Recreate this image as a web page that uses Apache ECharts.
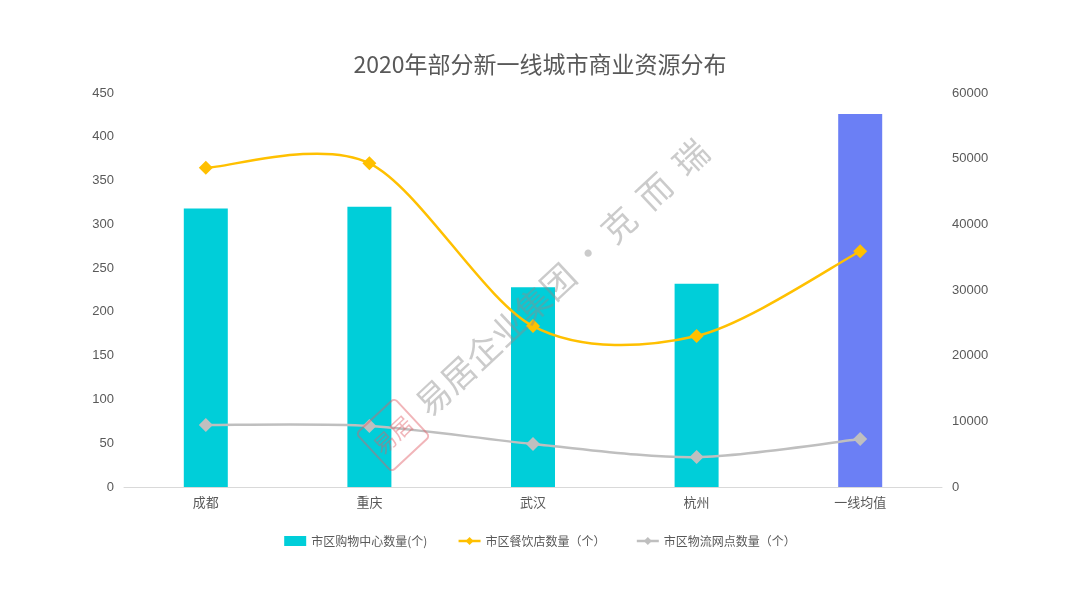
<!DOCTYPE html>
<html><head><meta charset="utf-8">
<script src="https://cdn.jsdelivr.net/npm/echarts@6/dist/echarts.min.js"></script>
<style>html,body{margin:0;padding:0;background:#fff}#c{width:1080px;height:597px}</style>
</head><body><div id="c"></div>
<script>
const categories = ['成都', '重庆', '武汉', '杭州', '一线均值'];
const mallCounts = [318, 320, 228, 232, 426];
const restaurantCounts = [48600, 49300, 24500, 23000, 35900];
const logisticsCounts = [9450, 9300, 6550, 4550, 7300];
const leftTicks = [0, 450, 50];
const rightTicks = [0, 60000, 10000];

const barColors = ['#00CED9', '#00CED9', '#00CED9', '#00CED9', '#6B7FF5'];
const YELLOW = '#FFC000', GRAY = '#BFBFBF';
const font = '"Noto Sans CJK SC", "Noto Sans", sans-serif';
const numFont = '"Liberation Sans", "Noto Sans CJK SC", sans-serif';

// Excel-like smooth curve segment (Catmull-Rom -> Bezier), drawn through the axes' scales
function curveRenderer(values, color) {
  return function (params, api) {
    const i = api.value(0);
    const n = values.length;
    if (i >= n - 1) return null;
    const P = j => api.coord([Math.max(0, Math.min(n - 1, j)), values[Math.max(0, Math.min(n - 1, j))]]);
    const p0 = P(i - 1), p1 = P(i), p2 = P(i + 1), p3 = P(i + 2);
    const k = 0.15;
    return {
      type: 'bezierCurve',
      shape: {
        x1: p1[0], y1: p1[1], x2: p2[0], y2: p2[1],
        cpx1: p1[0] + (p2[0] - p0[0]) * k, cpy1: p1[1] + (p2[1] - p0[1]) * k,
        cpx2: p2[0] - (p3[0] - p1[0]) * k, cpy2: p2[1] - (p3[1] - p1[1]) * k
      },
      style: {stroke: color, lineWidth: 2.5, fill: null}
    };
  };
}

const chart = echarts.init(document.getElementById('c'), null, {renderer: 'canvas'});
chart.setOption({
  backgroundColor: '#fff',
  animation: false,
  title: {
    text: '2020年部分新一线城市商业资源分布',
    left: 'center', top: 48,
    textStyle: {fontSize: 23, fontWeight: 'normal', color: '#595959', fontFamily: font}
  },
  legend: {
    bottom: 45, left: 'center', itemGap: 30, itemWidth: 22, itemHeight: 10,
    textStyle: {fontSize: 12, color: '#595959', fontFamily: font},
    data: [
      {name: '市区购物中心数量(个)', icon: 'rect', itemStyle: {color: '#00CED9'}},
      {name: '市区餐饮店数量（个）', lineStyle: {color: YELLOW, width: 2.5, opacity: 1}},
      {name: '市区物流网点数量（个）', lineStyle: {color: GRAY, width: 2.5, opacity: 1}}
    ]
  },
  grid: {left: 124, right: 138, top: 93, bottom: 110},
  xAxis: {
    type: 'category', data: categories,
    axisLine: {lineStyle: {color: '#D9D9D9'}},
    axisTick: {show: false},
    axisLabel: {color: '#595959', fontSize: 13, margin: 9, fontFamily: font}
  },
  yAxis: [
    {type: 'value', min: leftTicks[0], max: leftTicks[1], interval: leftTicks[2],
     splitLine: {show: false}, axisLine: {show: false}, axisTick: {show: false},
     axisLabel: {color: '#595959', fontSize: 13, margin: 10, fontFamily: numFont}},
    {type: 'value', min: rightTicks[0], max: rightTicks[1], interval: rightTicks[2],
     splitLine: {show: false}, axisLine: {show: false}, axisTick: {show: false},
     axisLabel: {color: '#595959', fontSize: 13, margin: 10, fontFamily: numFont,
                 formatter: v => String(v)}}
  ],
  series: [
    {name: '市区购物中心数量(个)', type: 'bar', yAxisIndex: 0, barWidth: 44,
     data: mallCounts.map((v, i) => ({value: v, itemStyle: {color: barColors[i]}})),
     itemStyle: {color: '#00CED9'}},
    {type: 'custom', yAxisIndex: 1, z: 3, silent: true,
     renderItem: curveRenderer(restaurantCounts, YELLOW),
     data: restaurantCounts.map((v, i) => [i, v])},
    {type: 'custom', yAxisIndex: 1, z: 3, silent: true,
     renderItem: curveRenderer(logisticsCounts, GRAY),
     data: logisticsCounts.map((v, i) => [i, v])},
    {name: '市区餐饮店数量（个）', type: 'line', yAxisIndex: 1, z: 4,
     data: restaurantCounts, symbol: 'diamond', symbolSize: 14,
     lineStyle: {color: YELLOW, width: 2.5, opacity: 0}, itemStyle: {color: YELLOW}},
    {name: '市区物流网点数量（个）', type: 'line', yAxisIndex: 1, z: 4,
     data: logisticsCounts, symbol: 'diamond', symbolSize: 14,
     lineStyle: {color: GRAY, width: 2.5, opacity: 0}, itemStyle: {color: GRAY}}
  ],
  graphic: [
    {type: 'text', x: 421, y: 409, rotation: Math.PI * 43 / 180, z: 100,
     style: {text: '易居企业集团 · 克  而  瑞', fontSize: 34, fill: 'rgba(140,140,140,0.45)',
             fontFamily: font, verticalAlign: 'middle'}},
    {type: 'rect', x: 393, y: 435, rotation: Math.PI * 43 / 180, z: 99,
     shape: {x: -26, y: -26, width: 52, height: 52, r: 4},
     style: {fill: 'none', stroke: 'rgba(225,90,100,0.45)', lineWidth: 2}},
    {type: 'text', x: 393, y: 435, rotation: Math.PI * 43 / 180, z: 99,
     style: {text: '易居', fontSize: 22, fill: 'rgba(225,90,100,0.45)', align: 'center',
             verticalAlign: 'middle', fontFamily: font}}
  ]
});
</script></body></html>
